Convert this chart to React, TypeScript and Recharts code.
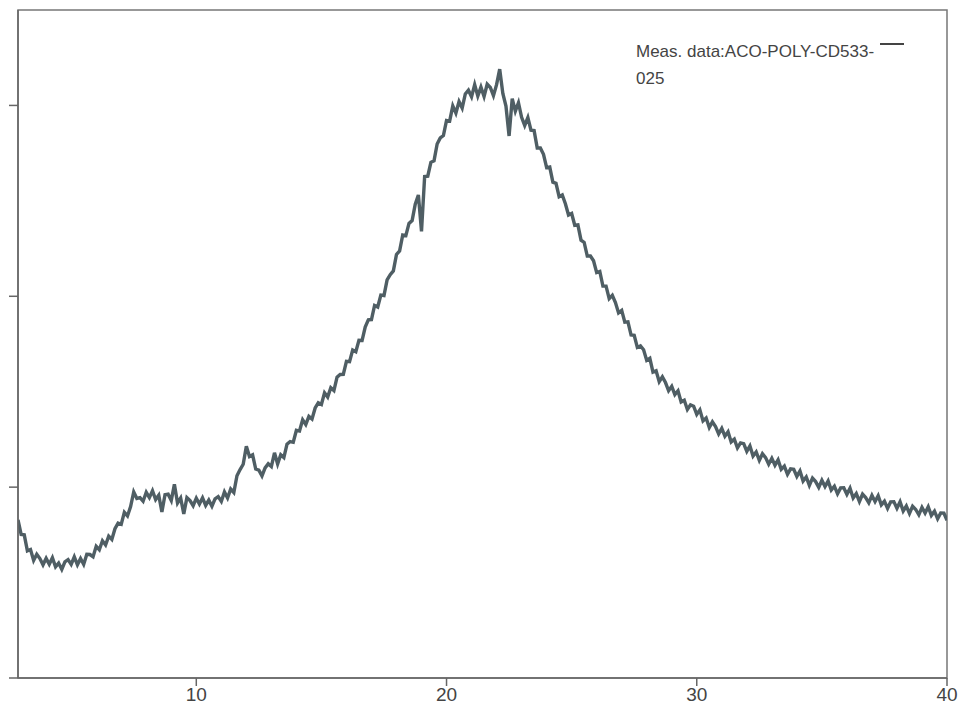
import React from 'react';
import { LineChart, Line, XAxis, YAxis, ReferenceArea } from 'recharts';

// Scan grid: 2θ from 2.875° to 40° in 0.125° steps (298 points)
const scanStart = 2.875;
const scanStep = 0.125;

const intensity: number[] = [
  828, 752, 750, 666, 673, 616, 648, 626, 593, 627, 596, 630, 582, 602, 569, 609,
  620, 595, 635, 593, 626, 595, 648, 647, 635, 690, 672, 719, 697, 743, 726, 782,
  811, 805, 868, 849, 898, 975, 941, 945, 926, 973, 945, 981, 935, 958, 870, 960,
  963, 930, 1015, 917, 943, 860, 945, 930, 903, 942, 911, 944, 904, 932, 900, 939,
  950, 925, 975, 943, 990, 972, 1060, 1092, 1120, 1214, 1160, 1169, 1095, 1089, 1059, 1101,
  1123, 1108, 1180, 1121, 1170, 1155, 1225, 1239, 1235, 1298, 1294, 1353, 1328, 1371, 1357, 1415,
  1442, 1433, 1494, 1472, 1521, 1506, 1576, 1590, 1591, 1659, 1657, 1719, 1710, 1769, 1768, 1839,
  1877, 1878, 1952, 1944, 2006, 2004, 2086, 2113, 2133, 2219, 2238, 2321, 2318, 2382, 2397, 2483,
  2531, 2340, 2627, 2629, 2702, 2710, 2798, 2830, 2842, 2921, 2918, 2998, 2960, 3020, 2986, 3060,
  3080, 3045, 3109, 3049, 3096, 3047, 3111, 3094, 3051, 3109, 3190, 3063, 2997, 2840, 3036, 2970,
  3014, 2938, 2895, 2936, 2870, 2868, 2777, 2777, 2744, 2674, 2677, 2598, 2592, 2522, 2531, 2485,
  2426, 2434, 2372, 2374, 2294, 2282, 2211, 2211, 2186, 2124, 2130, 2053, 2053, 1988, 2005, 1967,
  1913, 1926, 1864, 1866, 1797, 1795, 1732, 1740, 1720, 1664, 1675, 1603, 1610, 1553, 1578, 1548,
  1505, 1528, 1485, 1505, 1446, 1455, 1407, 1431, 1424, 1381, 1405, 1347, 1362, 1312, 1342, 1317,
  1279, 1308, 1267, 1290, 1237, 1251, 1206, 1232, 1228, 1187, 1216, 1163, 1184, 1140, 1175, 1155,
  1120, 1151, 1115, 1143, 1093, 1110, 1067, 1096, 1094, 1056, 1085, 1032, 1053, 1009, 1047, 1029,
  999, 1036, 1003, 1033, 985, 1005, 965, 996, 997, 962, 994, 943, 966, 925, 963, 945,
  918, 957, 924, 955, 907, 926, 889, 923, 924, 889, 923, 875, 901, 862, 900, 883,
  855, 894, 864, 897, 852, 874, 834, 865, 864, 826,
];

const twoTheta: number[] = intensity.map((_, i) => scanStart + i * scanStep);

const xTicks: number[] = [10, 20, 30, 40];
const yTicks: number[] = [0, 1000, 2000, 3000];
const seriesLine1 = 'Meas. data:ACO-POLY-CD533-';
const seriesLine2 = '025';

const data = twoTheta.map((t, i) => ({ t, v: intensity[i] }));

const LINE_COLOR = '#4f5e64';
const FONT = 'Liberation Sans, Arial, sans-serif';

export default function App() {
  return (
    <div style={{ position: 'absolute', left: 0, top: 0, width: 963, height: 717, background: '#fff' }}>
      <LineChart width={963} height={717} data={data} margin={{ top: 10, right: 16, bottom: 9, left: 8 }}>
        <XAxis
          dataKey="t"
          type="number"
          domain={[2.875, 40]}
          ticks={xTicks}
          allowDataOverflow
          height={30}
          stroke="#666"
          strokeWidth={1.5}
          tickSize={8}
          tick={{ fill: '#444', fontSize: 19, fontFamily: FONT }}
        />
        <YAxis
          type="number"
          domain={[0, 3500]}
          ticks={yTicks}
          width={10}
          stroke="#666"
          strokeWidth={1.5}
          tickSize={9}
          tickFormatter={() => ''}
        />
        <ReferenceArea x1={2.875} x2={40} y1={0} y2={3500} fill="none" stroke="#777" strokeWidth={1.5} />
        <Line
          type="linear"
          dataKey="v"
          name={seriesLine1 + seriesLine2}
          stroke={LINE_COLOR}
          strokeWidth={3.4}
          dot={false}
          isAnimationActive={false}
        />
      </LineChart>
      <div
        style={{
          position: 'absolute',
          left: 636,
          top: 38,
          fontFamily: FONT,
          fontSize: 17,
          color: '#444',
          lineHeight: '27px',
          whiteSpace: 'nowrap',
        }}
      >
        <div style={{ display: 'flex', alignItems: 'center' }}>
          <span>{seriesLine1}</span>
          <span style={{ display: 'inline-block', width: 24, height: 2, background: '#444', marginLeft: 6, marginTop: -16 }} />
        </div>
        <div>{seriesLine2}</div>
      </div>
    </div>
  );
}
